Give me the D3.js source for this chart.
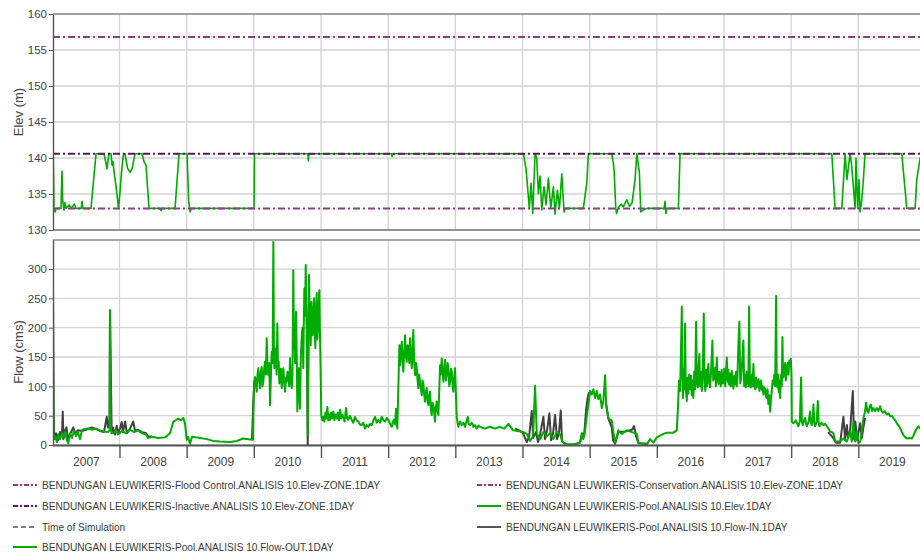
<!DOCTYPE html>
<meta charset="utf-8">
<script src="https://d3js.org/d3.v7.min.js"></script>
<style>
  body { margin: 0; background: #fff; }
  text { font-family: "Liberation Sans", Arial, sans-serif; }
</style>
<svg id="chart" width="920" height="553"></svg>
<script>

// ---- data ----
var yearLabels = ["2007","2008","2009","2010","2011","2012","2013","2014","2015","2016","2017","2018","2019"];
var elevTicks = [130, 135, 140, 145, 150, 155, 160];
var flowTicks = [0, 50, 100, 150, 200, 250, 300];

// zone elevations (m)
var zoneFloodControl = 156.8;
var zoneConservation = 140.6;
var zoneInactive = 133.0;

// pool elevation [decimal year, m]
var poolElev = [
  [2007.000,150.5],[2007.025,133],[2007.040,132.5],[2007.060,133],[2007.130,133],[2007.144,138.2],[2007.155,134],
  [2007.174,132.8],[2007.190,133.8],[2007.204,133],[2007.250,133.5],[2007.280,133],[2007.330,133.6],[2007.350,133],
  [2007.430,133],[2007.442,134],[2007.455,133],[2007.576,133],[2007.651,140.6],[2007.770,140.6],[2007.800,139.2],
  [2007.814,138.5],[2007.844,140.6],[2007.874,140.6],[2007.890,139],[2007.904,139.5],[2007.920,138],[2007.950,136],
  [2007.986,133],[2008.010,135.5],[2008.030,138],[2008.060,140.6],[2008.082,140.6],[2008.120,138.6],[2008.157,138],
  [2008.190,138.6],[2008.231,140.6],[2008.336,140.6],[2008.365,139.5],[2008.395,139],[2008.440,133],[2008.600,133],
  [2008.620,132.7],[2008.635,133],[2008.827,133],[2008.887,140.6],[2009.006,140.6],[2009.030,134],[2009.050,132.5],
  [2009.070,133],[2010.003,133],[2010.010,140.6],[2010.805,140.6],[2010.812,139.6],[2010.820,140.6],[2012.050,140.6],
  [2012.058,140.2],[2012.066,140.6],[2014.013,140.6],[2014.053,138.5],[2014.102,133],[2014.128,136.5],[2014.153,132.3],
  [2014.187,140.6],[2014.212,140],[2014.237,135],[2014.262,137.5],[2014.287,132.8],[2014.321,136],[2014.351,133.5],
  [2014.386,137.2],[2014.421,133],[2014.460,136],[2014.485,132.2],[2014.520,135.5],[2014.550,133],[2014.585,137.8],
  [2014.619,132.5],[2014.634,133],[2014.906,133],[2014.957,136.5],[2014.981,140.6],[2015.329,140.6],[2015.353,139.3],
  [2015.365,138.1],[2015.389,133],[2015.400,132.3],[2015.430,133.2],[2015.470,133.6],[2015.500,133.2],[2015.553,134.2],
  [2015.590,133.3],[2015.632,133.8],[2015.676,137],[2015.702,140.6],[2015.740,138],[2015.761,132.5],[2015.800,132.8],
  [2015.850,133],[2016.110,133],[2016.123,134],[2016.135,132.3],[2016.150,133],[2016.321,133],[2016.346,140.6],
  [2018.605,140.6],[2018.654,133],[2018.754,133],[2018.803,140.6],[2018.830,137],[2018.877,140.6],[2018.900,139],
  [2018.952,133],[2018.965,140],[2018.990,133],[2019.010,137],[2019.026,132.5],[2019.050,134],[2019.075,137],
  [2019.100,140.6],[2019.647,140.6],[2019.721,133],[2019.845,133],[2019.870,137],[2019.920,140],[2020.000,140.6]
];

// outflow [decimal year, cms]
var flowOut = [
  [2007.000,275],[2007.018,12],[2007.040,15],[2007.070,5],[2007.085,18],[2007.115,10],[2007.144,20],[2007.159,12],
  [2007.189,22],[2007.219,8],[2007.238,3],[2007.264,20],[2007.293,12],[2007.323,25],[2007.353,15],[2007.383,22],
  [2007.412,10],[2007.442,25],[2007.472,27],[2007.532,28],[2007.591,26],[2007.651,28],[2007.710,25],[2007.770,23],
  [2007.829,22],[2007.852,25],[2007.859,230],[2007.870,30],[2007.881,22],[2007.919,20],[2007.948,25],[2007.978,18],
  [2008.038,24],[2008.097,20],[2008.157,26],[2008.217,22],[2008.276,25],[2008.336,20],[2008.395,18],[2008.425,12],
  [2008.485,14],[2008.574,12],[2008.678,13],[2008.753,20],[2008.802,40],[2008.876,45],[2008.916,42],[2008.951,46],
  [2008.976,36],[2009.001,9],[2009.021,14],[2009.050,2],[2009.080,14],[2009.199,12],[2009.303,10],[2009.393,7],
  [2009.497,6],[2009.646,5],[2009.750,7],[2009.840,11],[2009.914,10],[2009.988,9],[2009.996,74],
  [2010.005,100],[2010.018,116],[2010.030,105],[2010.043,91],[2010.055,120],[2010.067,131],[2010.080,110],[2010.093,97],
  [2010.105,125],[2010.118,133],[2010.130,100],[2010.142,108],[2010.155,130],[2010.167,142],[2010.180,120],[2010.192,182],
  [2010.204,130],[2010.216,119],[2010.230,140],[2010.242,68],[2010.255,120],[2010.267,159],[2010.280,140],[2010.291,346],
  [2010.300,160],[2010.306,131],[2010.318,150],[2010.331,165],[2010.340,120],[2010.350,207],[2010.360,130],[2010.371,142],
  [2010.380,105],[2010.390,114],[2010.403,130],[2010.416,97],[2010.428,118],[2010.440,131],[2010.452,105],[2010.465,91],
  [2010.478,115],[2010.490,108],[2010.502,125],[2010.514,119],[2010.527,100],[2010.539,148],[2010.552,110],[2010.565,97],
  [2010.576,120],[2010.588,298],[2010.596,200],[2010.603,187],[2010.615,140],[2010.629,227],[2010.640,150],[2010.648,57],
  [2010.658,100],[2010.669,131],[2010.678,90],[2010.688,62],[2010.700,150],[2010.714,187],[2010.725,200],[2010.737,131],
  [2010.745,210],[2010.752,267],[2010.762,220],[2010.773,307],[2010.780,240],[2010.788,187],[2010.795,150],[2010.803,17],
  [2010.812,200],[2010.822,290],[2010.830,230],[2010.837,210],[2010.847,170],[2010.857,244],[2010.867,200],[2010.877,187],
  [2010.887,230],[2010.897,250],[2010.906,200],[2010.916,165],[2010.926,230],[2010.937,259],[2010.946,180],[2010.956,199],
  [2010.966,240],[2010.976,264],[2010.983,200],[2010.990,159],
  [2011.005,51],[2011.020,42],[2011.035,48],[2011.050,40],[2011.065,55],[2011.080,45],[2011.095,65],[2011.110,42],
  [2011.122,52],[2011.135,43],[2011.150,55],[2011.165,45],[2011.184,57],[2011.200,42],[2011.218,52],[2011.235,45],
  [2011.250,55],[2011.268,42],[2011.284,60],[2011.300,45],[2011.318,52],[2011.333,48],[2011.350,40],[2011.373,63],
  [2011.390,45],[2011.407,43],[2011.430,50],[2011.458,43],[2011.480,38],[2011.507,48],[2011.530,42],[2011.556,40],
  [2011.580,35],[2011.607,34],[2011.630,38],[2011.656,28],[2011.680,34],[2011.705,31],[2011.730,36],[2011.756,34],
  [2011.780,42],[2011.805,48],[2011.830,38],[2011.854,43],[2011.880,38],[2011.905,48],[2011.930,42],[2011.954,40],
  [2011.980,46],[2012.003,43],[2012.030,36],[2012.054,31],[2012.070,40],[2012.088,43],[2012.103,35],[2012.118,62],
  [2012.137,28],[2012.167,170],[2012.177,136],[2012.190,160],[2012.203,176],[2012.215,140],[2012.226,125],[2012.240,160],
  [2012.252,187],[2012.265,150],[2012.277,142],[2012.290,170],[2012.301,165],[2012.314,140],[2012.326,182],[2012.340,150],
  [2012.352,131],[2012.364,165],[2012.375,196],[2012.388,140],[2012.401,119],[2012.414,140],[2012.426,131],[2012.438,110],
  [2012.450,97],[2012.462,120],[2012.475,108],[2012.488,95],[2012.500,85],[2012.512,110],[2012.524,105],[2012.537,85],
  [2012.549,74],[2012.562,90],[2012.575,97],[2012.587,75],[2012.599,68],[2012.612,85],[2012.624,91],[2012.637,60],
  [2012.649,51],[2012.661,72],[2012.673,68],[2012.686,55],[2012.698,40],[2012.710,65],[2012.724,74],[2012.736,58],
  [2012.748,51],[2012.760,90],[2012.773,136],[2012.785,120],[2012.798,148],[2012.810,125],[2012.822,108],[2012.835,130],
  [2012.847,145],[2012.860,110],[2012.873,119],[2012.885,140],[2012.896,131],[2012.910,100],[2012.922,108],[2012.935,130],
  [2012.947,125],[2012.960,100],[2012.971,91],[2012.984,115],[2012.996,131],[2013.021,48],[2013.033,38],[2013.045,31],
  [2013.070,40],[2013.096,34],[2013.120,38],[2013.145,31],[2013.165,40],[2013.185,48],[2013.200,36],[2013.220,34],
  [2013.245,38],[2013.269,31],[2013.295,34],[2013.319,28],[2013.345,33],[2013.368,31],[2013.440,28],[2013.517,31],
  [2013.590,28],[2013.666,31],[2013.730,28],[2013.790,36],[2013.830,30],[2013.860,25],
  [2014.013,22],[2014.064,19],[2014.113,7],[2014.158,15],[2014.187,101],[2014.213,19],[2014.262,10],[2014.311,22],
  [2014.362,15],[2014.411,20],[2014.460,10],[2014.511,22],[2014.560,18],[2014.585,8],[2014.609,4],[2014.659,1],
  [2014.758,1],[2014.857,4],[2014.883,19],[2014.907,10],[2014.932,25],[2014.966,57],[2014.981,69],
  [2015.006,92],[2015.032,86],[2015.055,95],[2015.081,80],[2015.106,92],[2015.130,78],[2015.155,86],[2015.181,63],
  [2015.204,75],[2015.230,119],[2015.245,69],[2015.279,45],[2015.329,42],[2015.353,22],[2015.379,4],[2015.428,25],
  [2015.478,19],[2015.553,25],[2015.627,22],[2015.702,19],[2015.726,4],[2015.851,1],[2015.900,10],[2015.949,4],
  [2015.999,13],[2016.048,16],[2016.098,19],[2016.148,21],[2016.247,21],[2016.297,25],[2016.317,69],[2016.330,110],
  [2016.346,92],[2016.358,150],[2016.372,236],[2016.380,120],[2016.390,80],[2016.400,130],[2016.410,95],[2016.421,207],
  [2016.430,100],[2016.446,75],[2016.458,115],[2016.470,88],[2016.482,120],[2016.495,95],[2016.508,118],[2016.520,85],
  [2016.532,110],[2016.544,80],[2016.556,125],[2016.570,95],[2016.585,210],[2016.597,105],[2016.610,98],[2016.622,130],
  [2016.634,155],[2016.642,100],[2016.655,125],[2016.670,92],[2016.685,130],[2016.699,224],[2016.710,105],[2016.723,92],
  [2016.735,128],[2016.745,100],[2016.756,125],[2016.768,138],[2016.780,105],[2016.793,98],[2016.810,130],[2016.827,178],
  [2016.840,110],[2016.857,115],[2016.870,132],[2016.880,100],[2016.893,149],[2016.905,110],[2016.920,104],[2016.930,125],
  [2016.942,115],[2016.953,100],[2016.965,128],[2016.978,105],[2016.991,106],[2017.005,130],[2017.018,100],[2017.030,125],
  [2017.042,149],[2017.055,108],[2017.065,128],[2017.076,103],[2017.090,122],[2017.103,100],[2017.116,126],[2017.128,105],
  [2017.140,96],[2017.152,118],[2017.165,103],[2017.180,125],[2017.190,100],[2017.200,115],[2017.214,170],[2017.229,210],
  [2017.242,105],[2017.255,115],[2017.270,140],[2017.289,178],[2017.300,100],[2017.312,120],[2017.325,98],[2017.338,125],
  [2017.350,120],[2017.362,100],[2017.374,236],[2017.386,100],[2017.399,98],[2017.412,120],[2017.425,100],[2017.438,138],
  [2017.450,100],[2017.465,95],[2017.477,115],[2017.489,98],[2017.502,108],[2017.515,112],[2017.527,92],[2017.538,101],
  [2017.552,110],[2017.565,94],[2017.576,100],[2017.587,86],[2017.600,98],[2017.612,96],[2017.625,82],[2017.637,80],
  [2017.648,95],[2017.660,70],[2017.672,85],[2017.687,57],[2017.700,80],[2017.712,92],[2017.724,110],[2017.736,103],
  [2017.750,120],[2017.762,100],[2017.776,254],[2017.785,110],[2017.795,98],[2017.805,120],[2017.815,90],[2017.825,110],
  [2017.835,80],[2017.850,120],[2017.860,100],[2017.870,184],[2017.880,115],[2017.899,121],[2017.910,140],[2017.920,110],
  [2017.935,126],[2017.947,140],[2017.960,120],[2017.974,144],[2017.985,135],[2017.995,147],[2018.005,120],
  [2018.010,40],[2018.033,37],[2018.070,42],[2018.108,32],[2018.130,40],[2018.148,115],[2018.160,40],[2018.173,34],
  [2018.190,42],[2018.208,46],[2018.220,38],[2018.233,32],[2018.260,40],[2018.282,57],[2018.295,38],[2018.307,34],
  [2018.320,42],[2018.331,69],[2018.345,38],[2018.357,32],[2018.380,40],[2018.397,75],[2018.410,38],[2018.421,32],
  [2018.450,38],[2018.480,34],[2018.505,36],[2018.531,32],[2018.555,28],[2018.580,23],[2018.605,22],[2018.629,20],
  [2018.654,6],[2018.729,6],[2018.778,11],[2018.829,6],[2018.878,23],[2018.903,6],[2018.927,40],[2018.952,6],
  [2018.978,23],[2019.001,3],[2019.027,6],[2019.052,23],[2019.076,46],[2019.096,55],[2019.116,72],[2019.133,58],
  [2019.150,55],[2019.168,65],[2019.186,69],[2019.205,58],[2019.225,63],[2019.250,58],[2019.275,63],[2019.300,58],
  [2019.325,66],[2019.345,58],[2019.365,55],[2019.395,58],[2019.424,52],[2019.450,54],[2019.473,49],[2019.500,50],
  [2019.522,46],[2019.548,42],[2019.573,37],[2019.600,33],[2019.622,29],[2019.650,22],[2019.672,17],[2019.700,13],
  [2019.722,11],[2019.760,12],[2019.796,11],[2019.820,16],[2019.846,23],[2019.870,28],[2019.895,32],[2019.920,28],
  [2020.009,30]
];

// inflow, only the stretches where it shows from under the outflow line [decimal year, cms]
var flowInSegments = [
  [[2007.010,275],[2007.025,10],[2007.055,20],[2007.085,8],[2007.115,22],[2007.144,15],[2007.155,57],[2007.167,10],
   [2007.189,25],[2007.211,30],[2007.234,10],[2007.264,18],[2007.313,30],[2007.338,20],[2007.383,25],[2007.442,24],
   [2007.502,26],[2007.587,30],[2007.651,27],[2007.710,24],[2007.770,22],[2007.810,48],[2007.829,30],[2007.852,45],
   [2007.859,228],[2007.884,20],[2007.904,30],[2007.934,18],[2007.959,33],[2007.978,20],[2008.008,28],[2008.033,39],
   [2008.053,22],[2008.083,40],[2008.112,20],[2008.157,28],[2008.206,40],[2008.231,24],[2008.276,26],[2008.336,22],
   [2008.395,20],[2008.425,15],[2008.485,14]],
  [[2009.973,10],[2009.993,74],[2010.008,110]],
  [[2010.788,187],[2010.803,0],[2010.822,290]],
  [[2013.890,28],[2013.964,24],[2014.009,20],[2014.064,5],[2014.098,14],[2014.138,58],[2014.158,12],[2014.202,22],
   [2014.232,5],[2014.262,18],[2014.311,48],[2014.336,10],[2014.366,25],[2014.400,54],[2014.426,8],[2014.455,20],
   [2014.485,51],[2014.515,10],[2014.545,22],[2014.570,59],[2014.589,6],[2014.649,1],[2014.783,1],[2014.857,4],
   [2014.887,20],[2014.917,15],[2014.947,60],[2014.969,80],[2014.991,90]],
  [[2015.245,70],[2015.279,45],[2015.329,30],[2015.349,8],[2015.379,2],[2015.428,22],[2015.527,23],[2015.632,26],
   [2015.661,32],[2015.691,15],[2015.726,3],[2015.870,2]],
  [[2018.550,22],[2018.625,12],[2018.669,4],[2018.729,4],[2018.778,48],[2018.803,10],[2018.829,34],[2018.848,12],
   [2018.878,25],[2018.918,92],[2018.937,10],[2018.956,40],[2018.982,8],[2019.027,37],[2019.052,12],[2019.076,30],
   [2019.101,46]]
];

// ---- layout ----
var svg = d3.select("#chart");
var left = 53, right = 926;
var x = d3.scaleLinear().domain([2007, 2020]).range([52.3, 925.5]);
var yElev = d3.scaleLinear().domain([130, 160]).range([230, 14]);
var yFlow = d3.scaleLinear().domain([0, 350]).range([445, 239.7]);

var gridColor = "#d4d4d4", green = "#00ac00", inGray = "#404040";
var yearBounds = yearLabels.slice(1).map(function(d){ return +d; });
var yearMids = yearLabels.map(function(d){ return +d + 0.5; });

svg.append("defs").selectAll("clipPath")
  .data([["clipElev", 14, 230], ["clipFlow", 240, 445]])
  .enter().append("clipPath").attr("id", function(d){ return d[0]; })
  .append("rect").attr("x", left).attr("y", function(d){ return d[1]; })
  .attr("width", right - left).attr("height", function(d){ return d[2] - d[1]; });

function grid(y, ticks, top, bottom) {
  var g = svg.append("g");
  g.selectAll(".h").data(ticks).enter().append("line")
    .attr("x1", left).attr("x2", right)
    .attr("y1", function(d){ return y(d); }).attr("y2", function(d){ return y(d); })
    .attr("stroke", gridColor).attr("stroke-width", 1.3);
  g.selectAll(".v").data(yearBounds).enter().append("line")
    .attr("x1", function(d){ return x(d); }).attr("x2", function(d){ return x(d); })
    .attr("y1", top).attr("y2", bottom)
    .attr("stroke", gridColor).attr("stroke-width", 1.3);
}
grid(yElev, elevTicks, 14, 230);
grid(yFlow, flowTicks, 240, 445);

// ---- elevation panel ----
var elevLine = d3.line().x(function(d){ return x(d[0]); }).y(function(d){ return yElev(d[1]); });
svg.append("path").datum(poolElev)
  .attr("clip-path", "url(#clipElev)")
  .attr("d", elevLine).attr("fill", "none")
  .attr("stroke", green).attr("stroke-width", 1.6).attr("stroke-linejoin", "round");

var zones = [[zoneFloodControl, "#8a3e8a"], [zoneConservation, "#5e1460"], [zoneInactive, "#8a3e8a"]];
svg.selectAll(".zone").data(zones).enter().append("line")
  .attr("x1", left).attr("x2", right)
  .attr("y1", function(d){ return yElev(d[0]); }).attr("y2", function(d){ return yElev(d[0]); })
  .attr("stroke", function(d){ return d[1]; }).attr("stroke-width", 2)
  .attr("stroke-dasharray", "7,3,2,3");

// ---- flow panel ----
var flowLine = d3.line().x(function(d){ return x(d[0]); }).y(function(d){ return yFlow(d[1]); });
svg.append("g").attr("clip-path", "url(#clipFlow)")
  .selectAll("path").data(flowInSegments).enter().append("path")
  .attr("d", flowLine).attr("fill", "none")
  .attr("stroke", inGray).attr("stroke-width", 2).attr("stroke-linejoin", "round");
svg.append("path").datum(flowOut)
  .attr("clip-path", "url(#clipFlow)")
  .attr("d", flowLine).attr("fill", "none")
  .attr("stroke", green).attr("stroke-width", 2).attr("stroke-linejoin", "round");

// ---- frames and axes ----
function hline(y, color, w) {
  svg.append("line").attr("x1", left).attr("x2", right).attr("y1", y).attr("y2", y)
    .attr("stroke", color).attr("stroke-width", w);
}
hline(14, "#8c8c8c", 1.6);
hline(230, "#7a7a7a", 1.6);
hline(240, "#8c8c8c", 1.6);

function styleAxis(g, size) {
  g.selectAll("text").attr("fill", "#444").style("font-size", size + "px");
  g.selectAll("line").attr("stroke", "#555");
  g.select(".domain").attr("stroke", "#555").attr("stroke-width", 1.4);
}
svg.append("g").attr("transform", "translate(" + left + ",0)")
  .call(d3.axisLeft(yElev).tickValues(elevTicks).tickSize(4).tickSizeOuter(0).tickPadding(2))
  .call(styleAxis, 11.5);
svg.append("g").attr("transform", "translate(" + left + ",0)")
  .call(d3.axisLeft(yFlow).tickValues(flowTicks).tickSize(4).tickSizeOuter(0).tickPadding(2))
  .call(styleAxis, 11.5);

svg.append("g").attr("transform", "translate(0,445)")
  .call(d3.axisBottom(x).tickValues(yearBounds).tickSize(13).tickSizeOuter(0).tickFormat(""))
  .call(styleAxis, 12)
  .call(function(g){ g.select(".domain").attr("stroke-width", 2); g.selectAll("line").attr("stroke-width", 1.4); });
svg.append("g").attr("transform", "translate(0,445)")
  .call(d3.axisBottom(x).tickValues(yearMids).tickSize(0).tickPadding(12)
        .tickFormat(function(d, i){ return yearLabels[i]; }))
  .call(styleAxis, 12)
  .call(function(g){ g.select(".domain").remove(); });

svg.append("text").attr("transform", "translate(23,112) rotate(-90)")
  .attr("text-anchor", "middle").attr("fill", "#444").style("font-size", "13px").text("Elev (m)");
svg.append("text").attr("transform", "translate(23,352) rotate(-90)")
  .attr("text-anchor", "middle").attr("fill", "#444").style("font-size", "13px").text("Flow (cms)");

// ---- legend ----
var legendItems = [
  {x: 13, y: 485, color: "#8a3e8a", dash: "5,2,2,2", label: "BENDUNGAN LEUWIKERIS-Flood Control.ANALISIS 10.Elev-ZONE.1DAY"},
  {x: 13, y: 506, color: "#5e1460", dash: "5,2,2,2", label: "BENDUNGAN LEUWIKERIS-Inactive.ANALISIS 10.Elev-ZONE.1DAY"},
  {x: 13, y: 527, color: "#808080", dash: "5,3", label: "Time of Simulation"},
  {x: 13, y: 547, color: green, dash: null, label: "BENDUNGAN LEUWIKERIS-Pool.ANALISIS 10.Flow-OUT.1DAY"},
  {x: 477, y: 485, color: "#8a3e8a", dash: "5,2,2,2", label: "BENDUNGAN LEUWIKERIS-Conservation.ANALISIS 10.Elev-ZONE.1DAY"},
  {x: 477, y: 506, color: green, dash: null, label: "BENDUNGAN LEUWIKERIS-Pool.ANALISIS 10.Elev.1DAY"},
  {x: 477, y: 527, color: "#555", dash: null, label: "BENDUNGAN LEUWIKERIS-Pool.ANALISIS 10.Flow-IN.1DAY"}
];
var leg = svg.append("g").selectAll("g").data(legendItems).enter().append("g")
  .attr("transform", function(d){ return "translate(" + d.x + "," + d.y + ")"; });
leg.append("line").attr("x1", 0).attr("x2", 24).attr("y1", 0).attr("y2", 0)
  .attr("stroke", function(d){ return d.color; }).attr("stroke-width", 2)
  .attr("stroke-dasharray", function(d){ return d.dash; });
leg.append("text").attr("x", 29).attr("y", 3.6)
  .attr("fill", "#3a3a3a").style("font-size", "10.1px")
  .text(function(d){ return d.label; });

</script>
